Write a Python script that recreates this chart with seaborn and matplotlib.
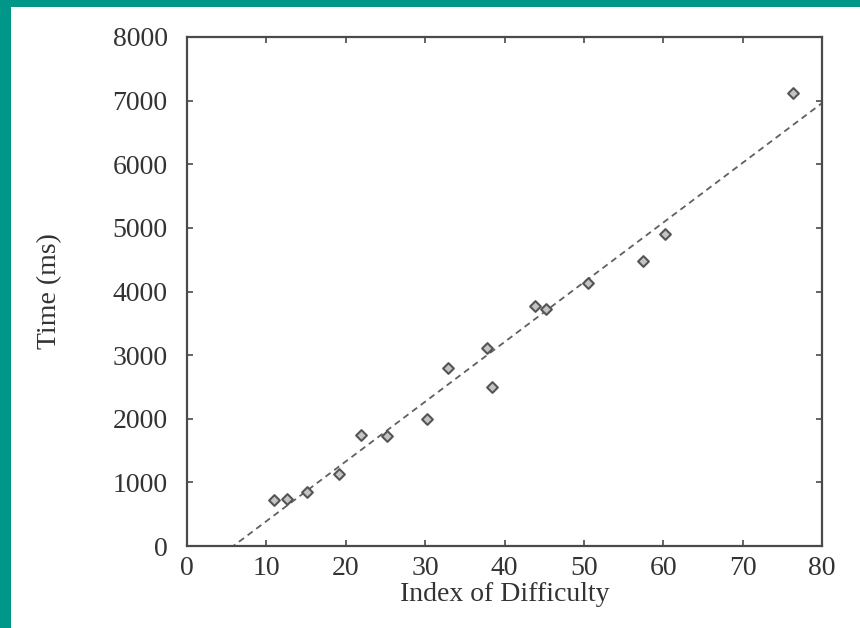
import matplotlib
matplotlib.use("Agg")
import matplotlib.pyplot as plt
import seaborn as sns
import pandas as pd
from matplotlib.patches import Rectangle

# Data
index_of_difficulty = [11.0, 12.6, 15.1, 19.2, 21.9, 25.2, 30.2, 32.9,
                       37.8, 38.4, 43.8, 45.2, 50.5, 57.4, 60.2, 76.4]
time_ms = [723, 734, 849, 1132, 1750, 1734, 2002, 2794,
           3113, 2495, 3766, 3732, 4130, 4481, 4906, 7118]
x_ticks = [0, 10, 20, 30, 40, 50, 60, 70, 80]
y_ticks = [0, 1000, 2000, 3000, 4000, 5000, 6000, 7000, 8000]
x_label = "Index of Difficulty"
y_label = "Time (ms)"

df = pd.DataFrame({"id": index_of_difficulty, "time": time_ms})

sns.set_theme(style="white")
plt.rcParams["font.family"] = ["Liberation Serif", "DejaVu Serif"]

fig = plt.figure(figsize=(8.6, 6.28), dpi=100)
fig.patch.set_facecolor("white")
teal = "#009688"
fig.patches.append(Rectangle((0, 0), 11 / 860, 1, transform=fig.transFigure,
                             facecolor=teal, edgecolor="none", zorder=0))
fig.patches.append(Rectangle((0, 1 - 7 / 628), 1, 7 / 628, transform=fig.transFigure,
                             facecolor=teal, edgecolor="none", zorder=0))

ax = fig.add_axes([187 / 860, 1 - 546 / 628, (822 - 187) / 860, (546 - 37) / 628])
ax.set_xlim(0, 80)
ax.set_ylim(0, 8000)

sns.regplot(data=df, x="id", y="time", ax=ax, ci=None, truncate=False,
            marker="D",
            scatter_kws=dict(s=30, facecolor="#c4c4c4", edgecolor="#555555",
                             linewidths=1.5, alpha=1, zorder=3),
            line_kws=dict(color="#606060", lw=1.3, linestyle=(0, (3.5, 2.5)), zorder=2))

ax.set_xlim(0, 80)
ax.set_ylim(0, 8000)
ax.set_xticks(x_ticks)
ax.set_yticks(y_ticks)
ax.set_xticklabels([str(t) for t in x_ticks])
ax.set_yticklabels([str(t) for t in y_ticks])

for s in ax.spines.values():
    s.set_visible(True)
    s.set_color("#4a4a4a")
    s.set_linewidth(1.6)

ax.tick_params(axis="both", which="major", direction="in", length=4.5, width=1.2,
               color="#4a4a4a", labelsize=20, labelcolor="#333333",
               top=True, right=True, bottom=True, left=True)
ax.tick_params(axis="x", pad=7)
ax.tick_params(axis="y", pad=14)

ax.set_xlabel(x_label, fontsize=20, color="#333333", labelpad=1)
ax.set_ylabel(y_label, fontsize=20, color="#333333", labelpad=36)

fig.savefig("out.png", dpi=100, facecolor="white")
